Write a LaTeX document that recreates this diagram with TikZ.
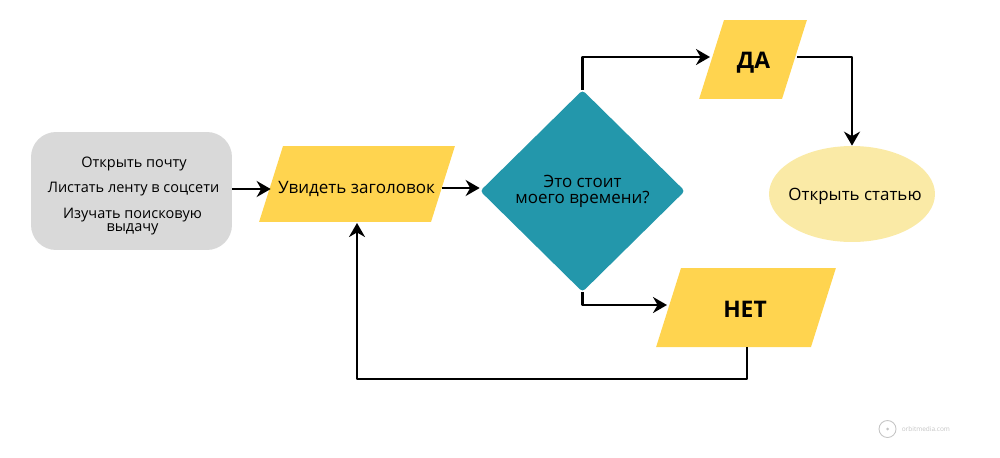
\documentclass[tikz,border=0pt]{standalone}
\usepackage{fontspec}
\setmainfont{Open Sans}
\usetikzlibrary{arrows.meta,positioning,shapes.geometric}
\definecolor{boxgray}{HTML}{D9D9D9}
\definecolor{boxyellow}{HTML}{FFD44F}
\definecolor{boxteal}{HTML}{2397AB}
\definecolor{boxcream}{HTML}{FAEAA6}
\definecolor{markgray}{HTML}{C4C4C4}
\tikzset{
	flow/.style={line width=1.6pt, -{Stealth[length=2.8mm, width=3.2mm]}, line join=round},
	sheet/.style={trapezium, trapezium left angle=72.5, trapezium right angle=107.5, fill=boxyellow, inner sep=0pt, text depth=0pt},
	smalltext/.style={font=\fontsize{8.25}{7.6}\selectfont, align=center, inner sep=0pt},
	bigtext/.style={font=\bfseries\fontsize{13}{15}\selectfont, inner sep=0pt}
}
\begin{document}
\begin{tikzpicture}[x=0.02cm, y=-0.02cm]
		\useasboundingbox (0,0) rectangle (1000,457);
		\node [fill=boxgray, rounded corners=0.5cm, minimum width=4.02cm, minimum height=2.36cm, inner sep=0pt](source) at (131.5,191) {};
		\node [smalltext](mail) at (134,163.5) {Открыть почту};
		\node [smalltext](feed) at (133.5,189) {Листать ленту в соцсети};
		\node [smalltext](search) at (132.5,221.5) {Изучать поисковую\\выдачу};
		\node [sheet, text width=2.96cm, text height=1.52cm](see) at (357,184) {};
		\node [font=\fontsize{9.7}{11}\selectfont, inner sep=0pt](seetext) at (356.5,188.5) {Увидеть заголовок};
		\node [diamond, fill=boxteal, minimum width=4.1cm, minimum height=4.04cm, inner sep=0pt, rounded corners=2pt, align=center, font=\fontsize{9.65}{9}\selectfont](worth) at (582.5,191) {Это стоит\\моего времени?};
		\node [sheet, text width=1.16cm, text height=1.58cm](yes) at (753,59.5) {};
		\node [bigtext](yestext) at (753.5,62.5) {ДА};
		\node [sheet, text width=2.6cm, text height=1.58cm](no) at (746,307.5) {};
		\node [bigtext](notext) at (745,309.5) {НЕТ};
		\node [ellipse, fill=boxcream, minimum width=3.32cm, minimum height=1.92cm, inner sep=0pt](open) at (852,194) {};
		\node [font=\fontsize{9.65}{11}\selectfont, inner sep=0pt](opentext) at (855,196) {Открыть статью};
		\node [circle, draw=markgray, line width=0.5pt, minimum size=0.34cm, inner sep=0pt](logo) at (887.5,429) {};
		\node [circle, fill=markgray, minimum size=0.06cm, inner sep=0pt](logodot) at (887.5,429) {};
		\node [right=0.1cm of logo, text=markgray, font=\fontsize{3.7}{5}\selectfont, inner sep=0pt](site) {orbitmedia.com};
		\coordinate (feedout) at (232,189);
		\coordinate (seeout) at (442,188);
		\coordinate (yesin) at (710,57);
		\coordinate (yesout) at (797,57);
		\coordinate (noin) at (667,305);
		\coordinate (nobottom) at (747,347);
		\coordinate (seebottom) at (357,223);
		\draw [flow] (feedout) -- (feedout -| see.west);
		\draw [flow] (seeout) -- (seeout -| worth.west);
		\draw [flow] (worth.north) |- (yesin);
		\draw [flow] (yesout) -| (open.north);
		\draw [flow] (worth.south) |- (noin);
		\draw [flow] (nobottom) |- (357,379) -- (seebottom);
\end{tikzpicture}
\end{document}
